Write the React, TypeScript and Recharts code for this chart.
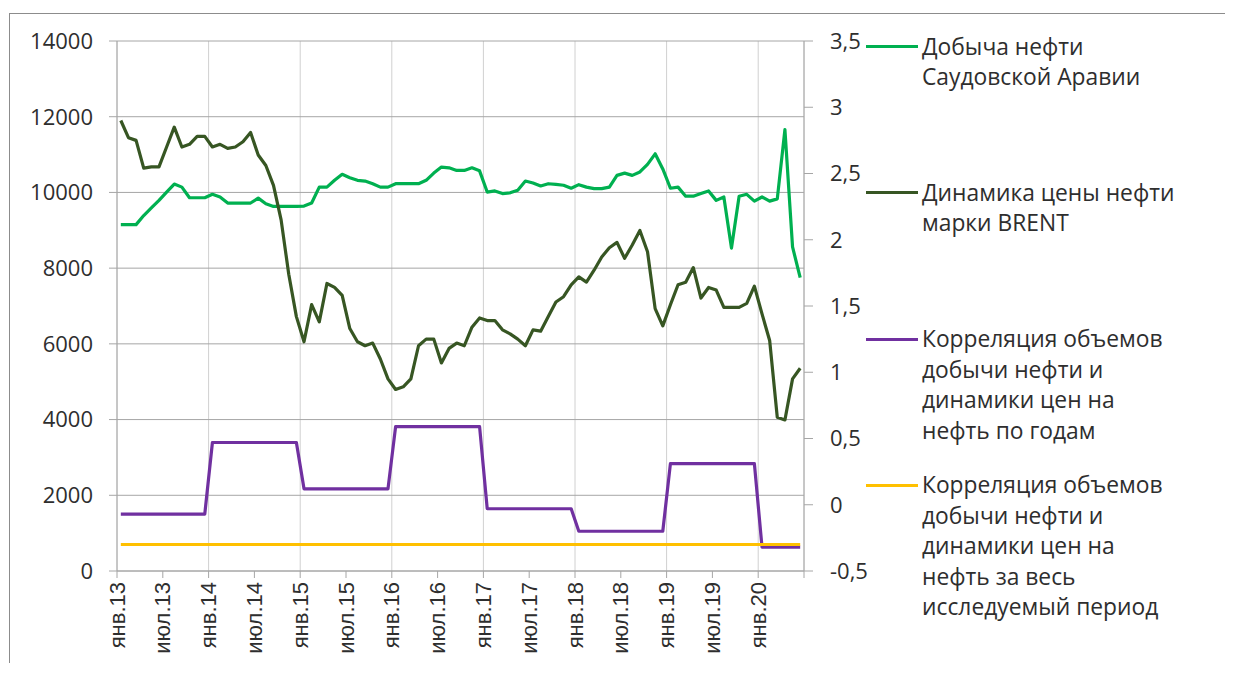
import React from 'react';
import { ComposedChart, Line, XAxis, YAxis, CartesianGrid, Legend } from 'recharts';

const monthAbbr = ['янв', 'фев', 'мар', 'апр', 'май', 'июн', 'июл', 'авг', 'сен', 'окт', 'ноя', 'дек'];
const yearSuffixes = ['13', '14', '15', '16', '17', '18', '19', '20'];
const monthCount = 90;
const categories: string[] = yearSuffixes
  .flatMap((y) => monthAbbr.map((m) => `${m}.${y}`))
  .slice(0, monthCount);

const xTicks = [0, 6, 12, 18, 24, 30, 36, 42, 48, 54, 60, 66, 72, 78, 84, 90];
const gridXTicks = [12, 24, 36, 48, 60, 72, 84];
const leftTicks = [0, 2000, 4000, 6000, 8000, 10000, 12000, 14000];
const rightTicks = [-0.5, 0, 0.5, 1, 1.5, 2, 2.5, 3, 3.5];

// Добыча нефти Саудовской Аравии (левая ось)
const saudiProduction = [
  9150, 9150, 9150, 9390, 9590, 9790, 10010, 10220, 10140, 9860, 9860, 9860,
  9950, 9880, 9720, 9720, 9720, 9720, 9850, 9700, 9630, 9630, 9630, 9630,
  9640, 9720, 10140, 10140, 10320, 10480, 10390, 10320, 10300, 10230, 10140, 10140,
  10230, 10230, 10230, 10230, 10320, 10510, 10670, 10650, 10580, 10580, 10650, 10570,
  10010, 10040, 9970, 9990, 10060, 10300, 10250, 10170, 10230, 10215, 10190, 10110,
  10205, 10140, 10100, 10100, 10140, 10450, 10510, 10450, 10540, 10740, 11020, 10620,
  10110, 10140, 9900, 9900, 9970, 10040, 9790, 9880, 8530, 9900, 9950, 9770,
  9880, 9770, 9830, 11660, 8560, 7750,
];

// Динамика цены нефти марки BRENT (правая ось)
const brentPrice = [
  2.90, 2.77, 2.75, 2.54, 2.55, 2.55, 2.70, 2.85, 2.70, 2.72, 2.78, 2.78,
  2.70, 2.72, 2.69, 2.70, 2.74, 2.81, 2.64, 2.56, 2.41, 2.15, 1.74, 1.42,
  1.23, 1.51, 1.38, 1.67, 1.64, 1.58, 1.33, 1.23, 1.20, 1.22, 1.10, 0.95,
  0.87, 0.89, 0.95, 1.20, 1.25, 1.25, 1.07, 1.18, 1.22, 1.20, 1.34, 1.41,
  1.39, 1.39, 1.32, 1.29, 1.25, 1.20, 1.32, 1.31, 1.42, 1.53, 1.57, 1.66,
  1.72, 1.68, 1.77, 1.87, 1.94, 1.98, 1.86, 1.96, 2.07, 1.91, 1.48, 1.35,
  1.51, 1.66, 1.68, 1.79, 1.56, 1.64, 1.62, 1.49, 1.49, 1.49, 1.52, 1.65,
  1.44, 1.24, 0.66, 0.64, 0.95, 1.03,
];

// Корреляция по годам 2013..2020 (правая ось)
const corrByYear = [-0.07, 0.47, 0.12, 0.59, -0.03, -0.2, 0.31, -0.32];
// Корреляция за весь период
const corrWholePeriod = -0.3;

const seriesNames = [
  'Добыча нефти Саудовской Аравии',
  'Динамика цены нефти марки BRENT',
  'Корреляция объемов добычи нефти и динамики цен на нефть по годам',
  'Корреляция объемов добычи нефти и динамики цен на нефть за весь исследуемый период',
];
const legendLines = [
  ['Добыча нефти', 'Саудовской Аравии'],
  ['Динамика цены нефти', 'марки BRENT'],
  ['Корреляция объемов', 'добычи нефти и', 'динамики цен на', 'нефть по годам'],
  ['Корреляция объемов', 'добычи нефти и', 'динамики цен на', 'нефть за весь', 'исследуемый период'],
];
const seriesColors = ['#00b050', '#375623', '#7030a0', '#ffc000'];

const data = categories.map((month, i) => ({
  pos: i + 0.5,
  month,
  saudi: saudiProduction[i],
  brent: brentPrice[i],
  corrYear: corrByYear[Math.floor(i / 12)],
  corrAll: corrWholePeriod,
}));

const TEXT = '#2e2e2e';
const NUM_FONT = '"Open Sans", sans-serif';

const XTick = (props: any) => {
  const { x, y, payload } = props;
  const label = categories[payload.value] ?? '';
  return (
    <text
      x={x}
      y={y}
      transform={`rotate(-90 ${x} ${y})`}
      textAnchor="end"
      dominantBaseline="central"
      fontSize={22}
      fontFamily='"Liberation Sans", Arial, sans-serif'
      fill={TEXT}
    >
      {label}
    </text>
  );
};

const LegendContent = () => (
  <div style={{ position: 'relative', width: 360, height: 620, fontFamily: NUM_FONT }}>
    {legendLines.map((lines, k) => (
      <div key={k} style={{ position: 'absolute', left: 0, top: k * 146.3, width: 360 }} title={seriesNames[k]}>
        <div
          style={{
            position: 'absolute',
            left: 0,
            top: 13.5,
            width: 52,
            height: 3,
            background: seriesColors[k],
          }}
        />
        <div style={{ position: 'absolute', left: 56, top: 0, fontSize: 22.8, lineHeight: '30.5px', color: TEXT, whiteSpace: 'nowrap' }}>
          {lines.map((l, j) => (
            <div key={j}>{l}</div>
          ))}
        </div>
      </div>
    ))}
  </div>
);

export default function App() {
  return (
    <div style={{ position: 'relative', width: 1217, height: 657 }}>
      <div
        style={{
          position: 'absolute',
          left: 1,
          top: 5,
          width: 1220,
          height: 650,
          borderTop: '1px solid #8c8c8c',
          borderLeft: '1px solid #8c8c8c',
          boxSizing: 'border-box',
        }}
      />
      <ComposedChart
        width={1217}
        height={657}
        data={data}
        margin={{ top: 33, right: 361, bottom: 0, left: 0 }}
        style={{ position: 'absolute', left: 0, top: 0 }}
      >
        <CartesianGrid xAxisId="grid" yAxisId="left" horizontal={false} stroke="#d0d0d0" />
        <CartesianGrid yAxisId="left" vertical={false} stroke="#a6a6a6" />
        <XAxis
          dataKey="pos"
          type="number"
          domain={[0, 90]}
          ticks={xTicks}
          interval={0}
          height={94}
          tickSize={7}
          tickMargin={4}
          stroke="#a6a6a6"
          tick={<XTick />}
        />
        <XAxis xAxisId="grid" dataKey="pos" type="number" domain={[0, 90]} ticks={gridXTicks} hide />
        <YAxis
          yAxisId="left"
          domain={[0, 14000]}
          ticks={leftTicks}
          interval={0}
          width={109}
          tickSize={8}
          tickMargin={16}
          stroke="#a6a6a6"
          tick={{ fill: TEXT, fontSize: 22, fontFamily: NUM_FONT }}
        />
        <YAxis
          yAxisId="right"
          orientation="right"
          domain={[-0.5, 3.5]}
          ticks={rightTicks}
          interval={0}
          width={60}
          tickSize={9}
          tickMargin={17}
          stroke="#a6a6a6"
          tickFormatter={(v: number) => String(v).replace('.', ',')}
          tick={{ fill: TEXT, fontSize: 22, fontFamily: NUM_FONT, textAnchor: 'start' }}
        />
        <Line
          yAxisId="left"
          dataKey="saudi"
          name={seriesNames[0]}
          stroke={seriesColors[0]}
          strokeWidth={3.2}
          strokeLinejoin="round"
          dot={false}
          isAnimationActive={false}
        />
        <Line
          yAxisId="right"
          dataKey="brent"
          name={seriesNames[1]}
          stroke={seriesColors[1]}
          strokeWidth={3.2}
          strokeLinejoin="round"
          dot={false}
          isAnimationActive={false}
        />
        <Line
          yAxisId="right"
          dataKey="corrYear"
          name={seriesNames[2]}
          stroke={seriesColors[2]}
          strokeWidth={3.2}
          strokeLinejoin="round"
          dot={false}
          isAnimationActive={false}
        />
        <Line
          yAxisId="right"
          dataKey="corrAll"
          name={seriesNames[3]}
          stroke={seriesColors[3]}
          strokeWidth={3.2}
          strokeLinejoin="round"
          dot={false}
          isAnimationActive={false}
        />
        <Legend
          layout="horizontal"
          verticalAlign="middle"
          align="center"
          content={<LegendContent />}
          wrapperStyle={{ position: 'absolute', left: 858, top: 23.5, width: 360, height: 620 }}
        />
      </ComposedChart>
    </div>
  );
}
